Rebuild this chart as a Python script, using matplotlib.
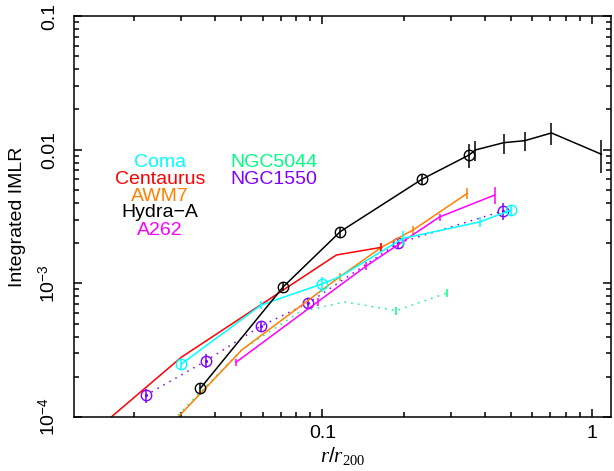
import numpy as np
import matplotlib
matplotlib.use("Agg")
import matplotlib.pyplot as plt
from matplotlib.ticker import LogLocator, FixedLocator, FixedFormatter, NullFormatter

plt.rcParams['font.family'] = ['Liberation Sans', 'DejaVu Sans']
plt.rcParams['mathtext.fontset'] = 'custom'
plt.rcParams['mathtext.rm'] = 'Liberation Sans'
plt.rcParams['mathtext.it'] = 'Liberation Serif:italic'
plt.rcParams['mathtext.sf'] = 'Liberation Serif'

"""
data read off the figure (r/r200, integrated IMLR, fractional error)
"""
hyd_x = [0.0353, 0.0717, 0.1166, 0.234, 0.35]
hyd_y = [1.64e-4, 9.45e-4, 2.44e-3, 6.01e-3, 9.13e-3]
hyd_e = [0.09, 0.08, 0.09, 0.08, 0.2]
hyd2_x = [0.35, 0.369, 0.47, 0.563, 0.707, 1.083]
hyd2_y = [9.13e-3, 9.95e-3, 0.01128, 0.01168, 0.01334, 9.24e-3]
hyd2_e = [0.0, 0.17, 0.17, 0.17, 0.19, 0.27]

cen_x = [0.015, 0.030, 0.1127, 0.1655]
cen_y = [8.5e-5, 2.80e-4, 1.63e-3, 1.86e-3]
cen_e = [0.0, 0.0, 0.0, 0.07]

coma_x = [0.030, 0.0594, 0.0997, 0.116, 0.199, 0.383, 0.502]
coma_y = [2.49e-4, 6.9e-4, 9.9e-4, 1.12e-3, 2.17e-3, 2.88e-3, 3.54e-3]
coma_e = [0.08, 0.07, 0.13, 0.0, 0.13, 0.08, 0.08]
coma_mark = [0, 2, 6]

awm_x = [0.0282, 0.0503, 0.116, 0.1655, 0.217, 0.345]
awm_y = [9.3e-5, 3.18e-4, 1.12e-3, 1.86e-3, 2.51e-3, 4.72e-3]
awm_e = [0.0, 0.0, 0.07, 0.07, 0.07, 0.09]

a262_x = [0.048, 0.0963, 0.1456, 0.272, 0.4356]
a262_y = [2.58e-4, 7.3e-4, 1.35e-3, 3.14e-3, 4.58e-3]
a262_e = [0.06, 0.07, 0.07, 0.06, 0.15]

n5044_x = [0.028, 0.0502, 0.0824, 0.121, 0.188, 0.29]
n5044_y = [9.5e-5, 3.18e-4, 6.1e-4, 7.26e-4, 6.25e-4, 8.47e-4]
n5044_e = [0.0, 0.0, 0.0, 0.0, 0.07, 0.07]

n1550_x = [0.0221, 0.0371, 0.059, 0.0884, 0.1908, 0.4676]
n1550_y = [1.45e-4, 2.64e-4, 4.78e-4, 7.1e-4, 2.0e-3, 3.48e-3]
n1550_e = [0.12, 0.12, 0.1, 0.1, 0.1, 0.15]

names = ['Coma', 'Centaurus', 'AWM7', 'Hydra\u2212A', 'A262']
names2 = ['NGC5044', 'NGC1550']

c_coma = '#00ffff'
c_cen = '#ff0000'
c_awm = '#ff8000'
c_hyd = '#000000'
c_a262 = '#ff00ff'
c_5044 = '#00ff80'
c_1550 = '#8000ff'

"""
plot
"""
fig = plt.figure(figsize=(6.14, 4.71), dpi=100)
ax = fig.add_axes([0.1205, 0.1146, 0.8738, 0.8514])
lwh = 1.1


def draw(x, y, e, col, ls='-', marker=None, mark_idx=None):
    x = np.array(x)
    y = np.array(y)
    e = np.array(e) * y
    ax.plot(x, y, color=col, lw=lwh, ls=ls)
    ok = e > 0
    ax.errorbar(x[ok], y[ok], yerr=e[ok], fmt='none', ecolor=col,
                elinewidth=lwh, capsize=0, ls=ls)
    if marker is not None:
        idx = mark_idx if mark_idx is not None else slice(None)
        ax.plot(x[idx], y[idx], marker, color=col, mfc='none', ms=7.5, mew=1.0)


draw(n5044_x, n5044_y, n5044_e, c_5044, ls=(0, (1, 3.5)))
draw(n1550_x, n1550_y, n1550_e, c_1550, ls=(0, (1, 3.5)), marker='o')
ax.plot(n1550_x, n1550_y, '.', color=c_1550, ms=2.5)
draw(awm_x, awm_y, awm_e, c_awm)
draw(a262_x, a262_y, a262_e, c_a262)
draw(cen_x, cen_y, cen_e, c_cen)
draw(coma_x, coma_y, coma_e, c_coma, marker='o', mark_idx=coma_mark)
draw(hyd_x, hyd_y, hyd_e, c_hyd, marker='o')
draw(hyd2_x, hyd2_y, hyd2_e, c_hyd)

ax.set_xscale('log')
ax.set_yscale('log')
ax.set_xlim(0.012, 1.17)
ax.set_ylim(1e-4, 0.1)

ax.xaxis.set_major_locator(FixedLocator([0.01, 0.1, 1]))
ax.xaxis.set_major_formatter(FixedFormatter(['0.01', '0.1', '1']))
ax.xaxis.set_minor_locator(LogLocator(base=10, subs=np.arange(2, 10)))
ax.xaxis.set_minor_formatter(NullFormatter())
ax.yaxis.set_major_locator(FixedLocator([1e-4, 1e-3, 1e-2, 1e-1]))
ax.yaxis.set_major_formatter(FixedFormatter([r'$10^{-4}$', r'$10^{-3}$', '0.01', '0.1']))
ax.yaxis.set_minor_locator(LogLocator(base=10, subs=np.arange(2, 10)))
ax.yaxis.set_minor_formatter(NullFormatter())

ax.tick_params(which='both', direction='in', top=True, right=True, width=1.1,
               labelsize=14)
ax.tick_params(which='major', length=6)
ax.tick_params(which='minor', length=3.5)
ax.tick_params(axis='x', pad=6)
ax.tick_params(axis='y', pad=11)
for lab in ax.get_yticklabels():
    lab.set_rotation(90)
    lab.set_va('center')
for sp in ax.spines.values():
    sp.set_linewidth(1.1)

ax.set_xlabel(r'$\mathit{r/r}_{\mathsf{200}}$', fontsize=15, labelpad=2)
ax.set_ylabel('Integrated IMLR', fontsize=14, labelpad=8)

# cluster names, placed in axes fraction
cols = [c_coma, c_cen, c_awm, c_hyd, c_a262]
ypos = [0.634, 0.593, 0.551, 0.510, 0.465]
for nm, c, yy in zip(names, cols, ypos):
    ax.text(0.160, yy, nm, color=c, fontsize=14, ha='center', va='center',
            transform=ax.transAxes)
for nm, c, yy in zip(names2, [c_5044, c_1550], ypos[:2]):
    ax.text(0.291, yy, nm, color=c, fontsize=14, ha='left', va='center',
            transform=ax.transAxes)

fig.savefig("out.png", dpi=100)
